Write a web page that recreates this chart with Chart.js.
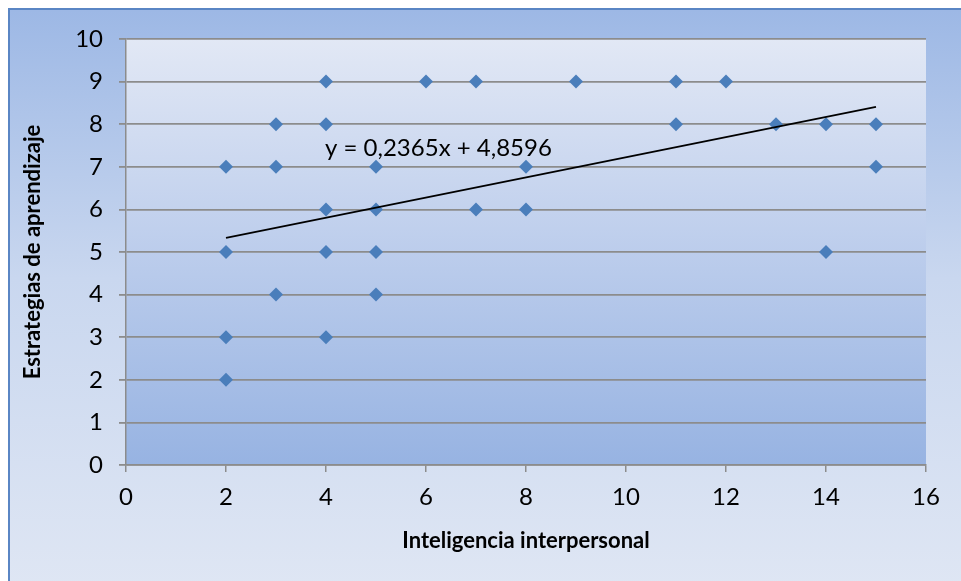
<!DOCTYPE html>
<html lang="es">
<head>
  <meta charset="UTF-8">
  <title>Estrategias de aprendizaje vs Inteligencia interpersonal</title>
  <script src="https://cdn.jsdelivr.net/npm/chart.js"></script>
  <style>
    html, body { margin: 0; padding: 0; background: #fff; overflow: hidden; }
    .frame {
      position: absolute; left: 8px; top: 8px; width: 980px; height: 600px;
      border: 2px solid #5a86c4; box-sizing: border-box;
      background: linear-gradient(to bottom, #9db8e5 0%, #c9d7ef 45%, #e0e7f4 100%);
    }
    .wrap { position: absolute; left: 0; top: 0; width: 961px; height: 581px; }
  </style>
</head>
<body>
  <div class="frame"></div>
  <div class="wrap"><canvas id="chart" width="961" height="581"></canvas></div>

  <script>
    // Inteligencia interpersonal (x) / Estrategias de aprendizaje (y)
    const xValues = [2, 2, 2, 2, 3, 3, 3, 4, 4, 4, 4, 4, 5, 5, 5, 5, 6, 7, 7, 8, 8, 9, 11, 11, 12, 13, 14, 14, 15, 15];
    const yValues = [7, 5, 3, 2, 8, 7, 4, 9, 8, 6, 5, 3, 7, 6, 5, 4, 9, 9, 6, 7, 6, 9, 9, 8, 9, 8, 8, 5, 8, 7];

    // linear trend line endpoints
    const trendX = [2, 15];
    const trendY = [5.333, 8.407];
    const trendLabel = 'y = 0,2365x + 4,8596';

    const xTicks = [0, 2, 4, 6, 8, 10, 12, 14, 16];
    const yTicks = [0, 1, 2, 3, 4, 5, 6, 7, 8, 9, 10];

    const FONT = "Lato, 'Open Sans', sans-serif";

    const points = xValues.map((x, i) => ({ x, y: yValues[i] }));
    const trend = trendX.map((x, i) => ({ x, y: trendY[i] }));

    // gradient fill behind the plot area
    const plotBg = {
      id: 'plotBg',
      beforeDraw(chart) {
        const { ctx, chartArea: a } = chart;
        const g = ctx.createLinearGradient(0, a.top, 0, a.bottom);
        g.addColorStop(0, '#e2e8f5');
        g.addColorStop(0.5, '#bccdec');
        g.addColorStop(1, '#97b3e2');
        ctx.save();
        ctx.fillStyle = g;
        ctx.fillRect(a.left, a.top, a.right - a.left, a.bottom - a.top);
        ctx.restore();
      }
    };

    // equation text of the trend line
    const eqLabel = {
      id: 'eqLabel',
      afterDatasetsDraw(chart) {
        const { ctx, scales } = chart;
        ctx.save();
        ctx.font = '24px ' + FONT;
        ctx.fillStyle = '#000';
        ctx.textAlign = 'left';
        ctx.textBaseline = 'middle';
        ctx.fillText(trendLabel, scales.x.getPixelForValue(3.98), scales.y.getPixelForValue(7.44));
        ctx.restore();
      }
    };

    new Chart(document.getElementById('chart'), {
      type: 'scatter',
      data: {
        datasets: [
          {
            label: 'Estrategias de aprendizaje',
            data: points,
            pointStyle: 'rectRot',
            pointRadius: 7,
            pointBackgroundColor: '#4a7ebb',
            pointBorderColor: '#4a7ebb',
            pointBorderWidth: 0,
            order: 2
          },
          {
            type: 'line',
            label: 'Lineal',
            data: trend,
            borderColor: '#000',
            borderWidth: 1.8,
            pointRadius: 0,
            fill: false,
            order: 1
          }
        ]
      },
      options: {
        responsive: false,
        animation: false,
        layout: { padding: { left: 0, top: 39, right: 35, bottom: 0 } },
        plugins: { legend: { display: false }, tooltip: { enabled: false } },
        scales: {
          x: {
            type: 'linear',
            min: 0, max: 16,
            afterBuildTicks: s => { s.ticks = xTicks.map(v => ({ value: v })); },
            afterFit: s => { s.height = 116; },
            grid: { drawOnChartArea: false, drawTicks: true, tickLength: 7, color: '#8c8c8c', lineWidth: 1.5 },
            border: { color: '#8c8c8c', width: 1.5 },
            ticks: { color: '#000', padding: 11, font: { family: FONT, size: 24 } },
            title: {
              display: true, text: 'Inteligencia interpersonal', color: '#000',
              font: { family: FONT, size: 22, weight: 'bold' }, padding: { top: 0, bottom: 27 }
            }
          },
          y: {
            type: 'linear',
            min: 0, max: 10,
            afterBuildTicks: s => { s.ticks = yTicks.map(v => ({ value: v })); },
            afterFit: s => { s.width = 126; },
            grid: { drawTicks: true, tickLength: 7, color: '#8c8c8c', lineWidth: 1.8 },
            border: { color: '#8c8c8c', width: 1.5 },
            ticks: { color: '#000', padding: 16, font: { family: FONT, size: 24 } },
            title: {
              display: true, text: 'Estrategias de aprendizaje', color: '#000',
              font: { family: FONT, size: 22, weight: 'bold' }, padding: { top: 20, bottom: 0 }
            }
          }
        }
      },
      plugins: [plotBg, eqLabel]
    });
  </script>
</body>
</html>
